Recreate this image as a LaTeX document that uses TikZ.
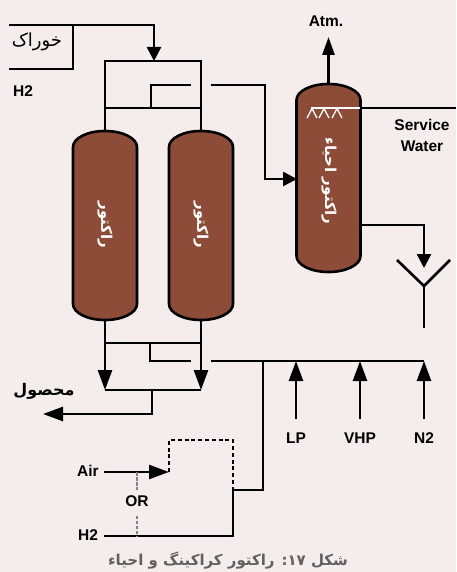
\documentclass[tikz,border=0pt]{standalone}
\usepackage{fontspec}
\usepackage{xcolor}
\setmainfont{Liberation Sans}
\newfontfamily\arabicfont[Script=Arabic]{DejaVu Sans}
\TeXXeTstate=1
\usetikzlibrary{arrows.meta}
\definecolor{paper}{HTML}{F4EDEB}
\definecolor{vesselbrown}{HTML}{8C4C38}
\tikzset{
  pipe/.style={line width=2.6pt},
  flow/.style={pipe,-{Triangle[length=20pt,width=14pt]}},
  flowshort/.style={pipe,-{Triangle[length=14pt,width=14pt]}},
  ctrl/.style={pipe,dash pattern=on 4pt off 2.8pt},
  lbl/.style={font=\bfseries\fontsize{15.5}{18}\selectfont,inner sep=0pt},
  farsi/.style={font=\arabicfont\bfseries\fontsize{15}{18}\selectfont,inner sep=0pt},
  vessellbl/.style={farsi,white,rotate=-90}
}
\begin{document}
\begin{tikzpicture}[x=1pt,y=-1pt]
    \fill[paper] (0,0) rectangle (456,572);
    \useasboundingbox (0,0) rectangle (456,572);
    % vessels
    \foreach \cx/\top/\bot/\name in {105/131/320/reactorA, 201/131/320/reactorB, 328.5/84/272/regen}{
      \filldraw[vesselbrown,draw=black,line width=2.6pt]
        (\cx-32,\top+16) arc[start angle=180,end angle=0,x radius=32,y radius=-16]
        -- (\cx+32,\bot-16) arc[start angle=0,end angle=-180,x radius=32,y radius=-16] -- cycle;
      \coordinate (\name top) at (\cx,\top);
      \coordinate (\name bot) at (\cx,\bot);
    }
    \node[vessellbl] (labelA) at (105,225) {\beginR راکتور\endR};
    \node[vessellbl] (labelB) at (201,225) {\beginR راکتور\endR};
    \node[vessellbl] (labelC) at (329,181) {\beginR راکتور احیاء\endR};
    % feed and top header
    \coordinate (feedL) at (9,25);
    \coordinate (feedR) at (73,25);
    \coordinate (feedB) at (73,69);
    \coordinate (feedE) at (9,69);
    \coordinate (hdr) at (154,61);
    \node[farsi,font=\arabicfont\fontsize{18}{20}\selectfont] (feed) at (37,42) {\beginR خوراک\endR};
    \node[lbl] (h2top) at (23,91) {H2};
    \draw[pipe] (feedE) -- (feedB) -- (feedR);
    \draw[flowshort] (feedL) -- (154,25) -- (hdr);
    \coordinate (hdrL) at (105,61);
    \coordinate (hdrR) at (201,61);
    \coordinate (midL) at (105,108);
    \coordinate (midR) at (201,108);
    \draw[pipe] (reactorAtop) -- (hdrL) -- (hdrR) -- (reactorBtop);
    \draw[pipe] (midL) -- (midR);
    \coordinate (tapA) at (151,108);
    \coordinate (tapB) at (191,85);
    \draw[pipe] (tapA) |- (tapB);
    \coordinate (toRegA) at (211,85);
    \coordinate (toRegB) at (297,179);
    \draw[flowshort] (toRegA) -- (265,85) -- (265,179) -- (toRegB);
    % regenerator
    \node[lbl] (atm) at (326,21) {Atm.};
    \coordinate (atmEnd) at (328.5,37);
    \draw[pipe,-{Triangle[length=18pt,width=12pt]}] (regentop) -- (atmEnd);
    \coordinate (swIn) at (360,108);
    \coordinate (swEnd) at (456,108);
    \draw[pipe] (swIn) -- (swEnd);
    \draw[white,line width=1.8pt] (311,108) -- (swIn);
    \draw[white,line width=1.3pt] (307,118) -- (312,108.5) -- (317,118) (319,118) -- (324,108.5) -- (329,118) (332,118) -- (337,108.5) -- (342,118);
    \node[lbl,align=center] (service) at (422,135.5) {Service\\[3pt]Water};
    \coordinate (regenOut) at (360,225);
    \coordinate (sewer) at (424,268);
    \draw[flowshort] (regenOut) -- (424,225) -- (sewer);
    \coordinate (yC) at (424,286);
    \draw[pipe] (397,260) -- (yC) -- (450,260);
    \draw[pipe] (yC) -- (424,328);
    % bottom header
    \coordinate (lowL) at (105,390);
    \coordinate (lowR) at (201,390);
    \draw[flow] (reactorAbot) -- (lowL);
    \draw[flow] (reactorBbot) -- (lowR);
    \draw[pipe] (105,343) -- (201,343);
    \draw[pipe] (lowL) -- (lowR);
    \coordinate (utilL) at (191,361);
    \coordinate (utilB) at (211,361);
    \coordinate (utilE) at (424,361);
    \draw[pipe] (150,343) |- (utilL);
    \draw[pipe] (utilB) -- (utilE);
    \coordinate (prodEnd) at (43,414);
    \draw[flow] (152,390) -- (152,414) -- (prodEnd);
    \node[farsi,font=\arabicfont\bfseries\fontsize{16}{18}\selectfont] (product) at (44,391) {\beginR محصول\endR};
    % utilities
    \foreach \x/\lab/\name in {296/LP/lp, 360/VHP/vhp, 424/N2/ntwo}{
      \node[lbl] (\name) at (\x,438) {\lab};
      \coordinate (\name tip) at (\x,361);
      \draw[flow] (\x,419) -- (\name tip);
    }
    % air and hydrogen
    \node[lbl] (air) at (88,471) {Air};
    \node[lbl] (h2low) at (88,535) {H2};
    \node[lbl] (or) at (137,501) {OR};
    \coordinate (airStart) at (104,472);
    \coordinate (airEnd) at (169,472);
    \coordinate (joint) at (233,490);
    \draw[flow] (airStart) -- (airEnd);
    \draw[ctrl] (airEnd) -- (169,440) -- (233,440) -- (joint);
    \draw[pipe] (263,361) -- (263,490) -- (joint);
    \draw[pipe,line width=2.9pt] (joint) -- (233,536) -- (104,536);
    \draw[gray,line width=2.4pt,dash pattern=on 3.5pt off 1.5pt] (137,472) -- ([yshift=5pt]or.north);
    \draw[gray,line width=2.4pt,dash pattern=on 3.5pt off 1.5pt] ([yshift=-9pt]or.south) -- (137,536);
    % caption
    \node[farsi,text=black!62] (caption) at (228,561) {\beginR شکل ۱۷: راکتور کراکینگ و احیاء\endR};
  \end{tikzpicture}
\end{document}
